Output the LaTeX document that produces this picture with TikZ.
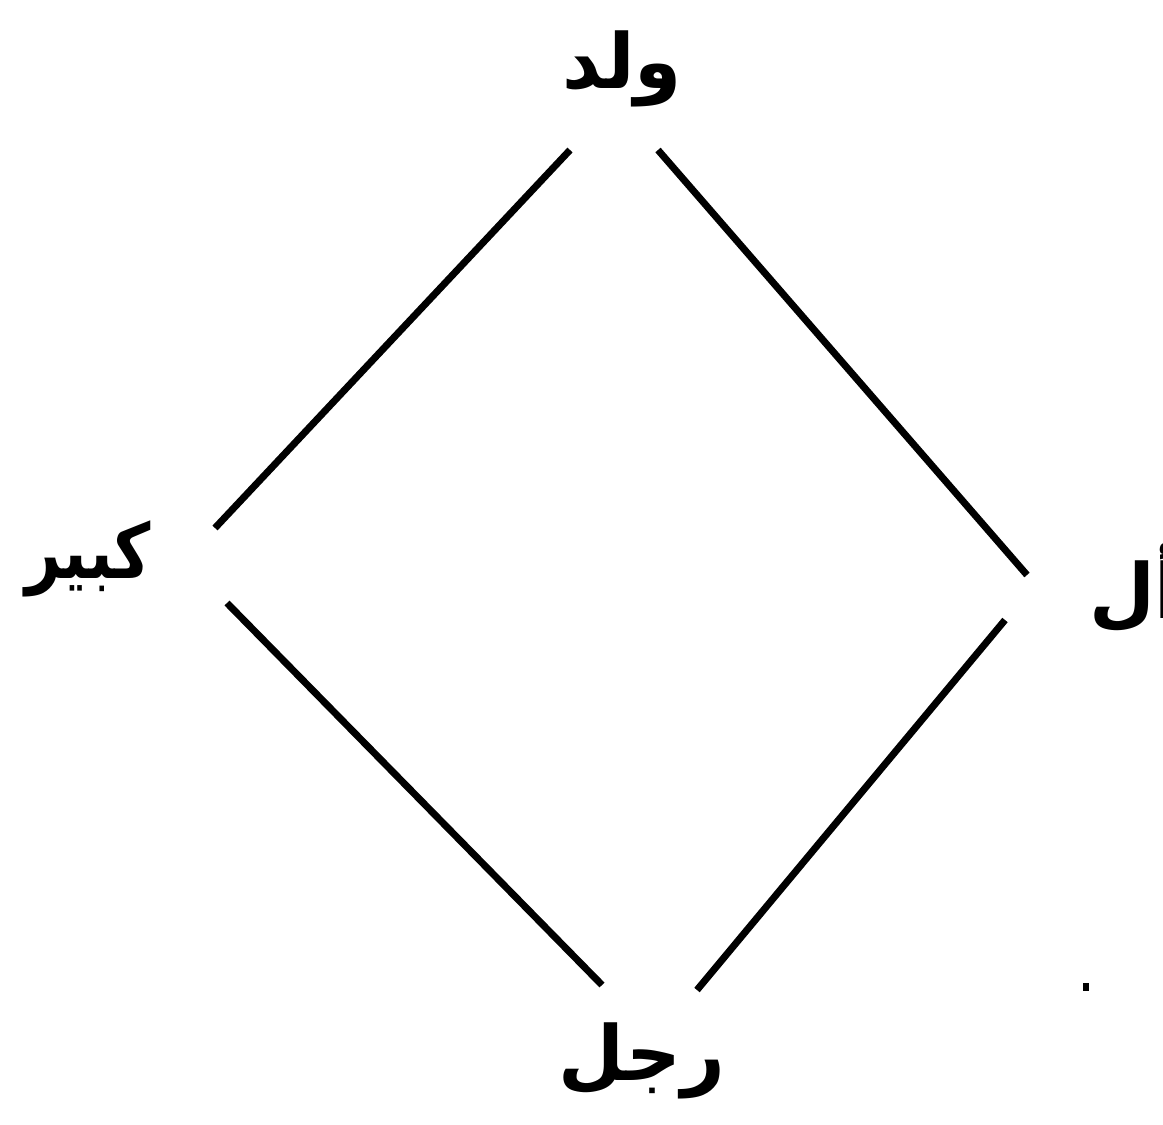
\documentclass[tikz,border=0pt]{standalone}
\usepackage{fontspec}
\newfontfamily\arabicfont[Script=Arabic]{DejaVu Sans}
\TeXXeTstate=1
\begin{document}
\begin{tikzpicture}[x=1pt,y=-1pt,
  lbl/.style={font=\arabicfont\bfseries\fontsize{76}{84}\selectfont, inner sep=0pt, anchor=base},
  edge/.style={line width=7pt}]
\useasboundingbox (0,0) rectangle (1163,1125);
\fill[white] (0,0) rectangle (1163,1125);
\node[lbl] (top) at (622,88) {\beginR ولد\endR};
\node[lbl] (left) at (88,578) {\scalebox{0.82}[1]{\beginR كبير\endR}};
\node[lbl] (right) at (1135,618) {\beginR أل\endR};
\node[lbl] (bot) at (642,1080) {\beginR رجل\endR};
\coordinate (a1) at (570,150); \coordinate (a2) at (215,528);
\coordinate (b1) at (658,150); \coordinate (b2) at (1027,575);
\coordinate (c1) at (227,603); \coordinate (c2) at (602,985);
\coordinate (d1) at (1005,620); \coordinate (d2) at (697,990);
\draw[edge] (a1) -- (a2);
\draw[edge] (b1) -- (b2);
\draw[edge] (c1) -- (c2);
\draw[edge] (d1) -- (d2);
\fill (1083,983) rectangle (1089,991);
\end{tikzpicture}
\end{document}
